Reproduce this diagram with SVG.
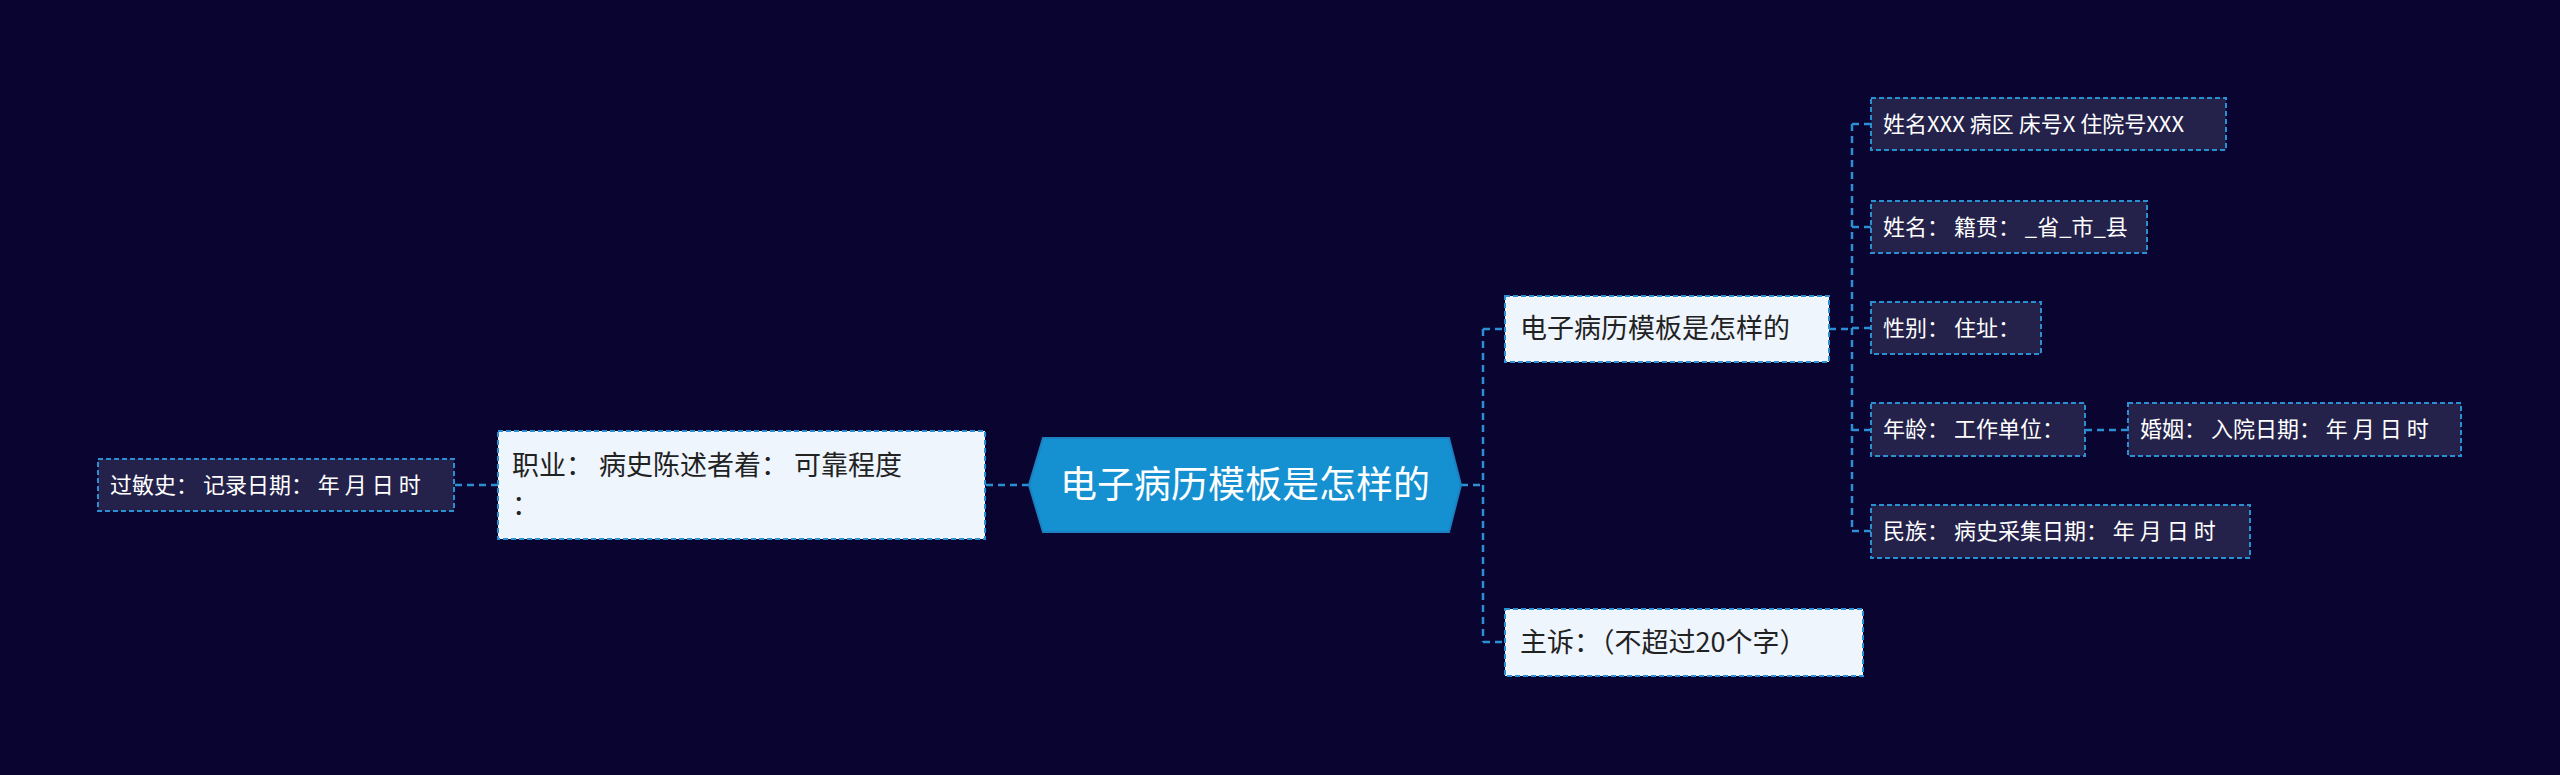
<svg xmlns="http://www.w3.org/2000/svg" width="2560" height="775" viewBox="0 0 2560 775">
<style>
text{font-family:"Noto Sans CJK SC","Noto Sans",sans-serif;}
.l1{fill:#eff5fd;stroke:#2b8fd1;stroke-width:2;stroke-dasharray:5 3;}
.l1t{fill:#222;font-size:27px;}
.l2{fill:#24224a;stroke:#2b8fd1;stroke-width:2;stroke-dasharray:5 3;}
.l2t{fill:#fff;font-size:22px;}
.c{fill:none;stroke:#2b8fd1;stroke-width:2.5;stroke-dasharray:7 5;}
</style>
<rect width="2560" height="775" fill="#0a0530"/>
<g id="connectors">
<path class="c" d="M1461 485H1483M1483 329V642M1483 329H1505M1483 642H1505"/>
<path class="c" d="M1829 329H1852M1852 124V531M1852 124H1871M1852 227H1871M1852 328H1871M1852 430H1871M1852 531H1871"/>
<path class="c" d="M2085 430H2128"/>
<path class="c" d="M1029 485H985"/>
<path class="c" d="M498 485H454"/>
</g>
<g id="center">
<polygon points="1043,438 1449,438 1461,485 1449,532 1043,532 1029,485" fill="#1591d2" stroke="#1d7fc0" stroke-width="2"/>
<text x="1245" y="498" font-size="37" fill="#fff" text-anchor="middle">电子病历模板是怎样的</text>
</g>
<g id="r1"><rect class="l1" x="1505" y="296" width="324" height="66"/><text class="l1t" x="1520" y="338">电子病历模板是怎样的</text></g>
<g id="r2"><rect class="l1" x="1505" y="609" width="358" height="67"/><text class="l1t" x="1520" y="652">主诉：（不超过20个字）</text></g>
<g id="l1"><rect class="l1" x="498" y="431" width="487" height="108"/><text class="l1t" x="512" y="475">职业：  病史陈述者着：  可靠程度</text><text class="l1t" x="512" y="515">：</text></g>
<g id="l2"><rect class="l2" x="98" y="459" width="356" height="52"/><text class="l2t" x="110" y="493">过敏史：  记录日期：  年  月  日  时</text></g>
<g id="a1"><rect class="l2" x="1871" y="98" width="355" height="52"/><text class="l2t" x="1883" y="132">姓名XXX 病区 床号X 住院号XXX</text></g>
<g id="a2"><rect class="l2" x="1871" y="201" width="276" height="52"/><text class="l2t" x="1883" y="235">姓名：  籍贯：  _省_市_县</text></g>
<g id="a3"><rect class="l2" x="1871" y="302" width="170" height="52"/><text class="l2t" x="1883" y="336">性别：  住址：</text></g>
<g id="a4"><rect class="l2" x="1871" y="403" width="214" height="53"/><text class="l2t" x="1883" y="437">年龄：  工作单位：</text></g>
<g id="a5"><rect class="l2" x="2128" y="403" width="333" height="53"/><text class="l2t" x="2140" y="437">婚姻：  入院日期：  年  月  日  时</text></g>
<g id="a6"><rect class="l2" x="1871" y="505" width="379" height="53"/><text class="l2t" x="1883" y="539">民族：  病史采集日期：  年  月  日  时</text></g>
</svg>
